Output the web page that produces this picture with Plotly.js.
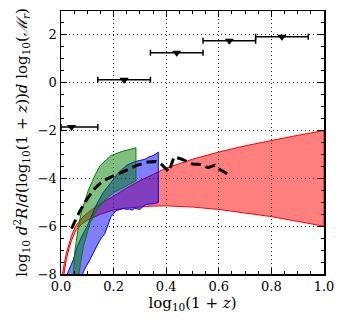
<!DOCTYPE html>
<html>
<head>
<meta charset="utf-8">
<script src="https://cdn.plot.ly/plotly-3.0.1.min.js"></script>
<style>
  html, body { margin: 0; padding: 0; background: #fff; }
  #grafica { width: 345px; height: 324px; }
</style>
</head>
<body>
<div id="grafica"></div>
<script>
// upper limits (triangles with bin widths)
const limX = [0.04, 0.24, 0.44, 0.64, 0.84];
const limY = [-1.85, 0.12, 1.25, 1.76, 1.92];
const limErrPlus = [0.1, 0.1, 0.1, 0.1, 0.1];
const limErrMinus = [0.04, 0.1, 0.1, 0.1, 0.1];

// red band
const redX = [0.005, 0.01, 0.02, 0.03, 0.04, 0.055, 0.08, 0.1, 0.15, 0.2, 0.25, 0.3, 0.35, 0.4, 0.5, 0.6, 0.7, 0.8, 0.9, 1.0];
const redUpper = [-8.1, -7.7, -7.15, -6.75, -6.4, -6.0, -5.65, -5.45, -5.05, -4.75, -4.4, -4.1, -3.82, -3.57, -3.2, -2.9, -2.64, -2.41, -2.2, -2.0];
const redLower = [-8.6, -8.1, -7.4, -6.95, -6.6, -6.2, -5.9, -5.75, -5.5, -5.32, -5.24, -5.19, -5.16, -5.15, -5.2, -5.3, -5.45, -5.6, -5.8, -6.0];

// blue band
const blueUpX = [0.012, 0.03, 0.047, 0.06, 0.08, 0.1, 0.13, 0.16, 0.19, 0.22, 0.25, 0.28, 0.3, 0.32, 0.335, 0.35, 0.365, 0.37];
const blueUpY = [-8.3, -7.8, -7.4, -6.9, -6.4, -6.0, -5.2, -4.6, -4.15, -3.75, -3.45, -3.3, -3.25, -3.2, -3.1, -3.05, -2.95, -2.9];
const blueLoX = [0.07, 0.09, 0.11, 0.13, 0.148, 0.167, 0.18, 0.19, 0.21, 0.237, 0.25, 0.26, 0.27, 0.28, 0.3, 0.31, 0.32, 0.34, 0.36, 0.37];
const blueLoY = [-8.3, -7.8, -7.4, -7.0, -6.58, -6.3, -5.9, -5.6, -5.35, -5.26, -5.3, -5.28, -5.33, -5.25, -5.3, -5.2, -5.1, -5.07, -5.05, -5.0];

// green band
const greenUpX = [0.045, 0.053, 0.066, 0.079, 0.104, 0.13, 0.15, 0.19, 0.23, 0.285];
const greenUpY = [-8.3, -7.0, -6.03, -5.33, -4.5, -3.85, -3.45, -3.05, -2.88, -2.72];
const greenLoX = [0.064, 0.075, 0.085, 0.11, 0.136, 0.167, 0.2, 0.24, 0.285];
const greenLoY = [-8.3, -7.5, -6.86, -5.88, -5.33, -4.91, -4.6, -4.35, -4.1];

// black dashed curve
const dashX = [0.04, 0.07, 0.1, 0.13, 0.16, 0.2, 0.25, 0.29, 0.33, 0.36, 0.38, 0.41, 0.43, 0.46, 0.5, 0.53, 0.56, 0.585, 0.6, 0.645];
const dashY = [-6.1, -5.4, -4.85, -4.4, -4.1, -3.9, -3.62, -3.45, -3.32, -3.3, -3.4, -3.72, -3.1, -3.2, -3.4, -3.42, -3.55, -3.45, -3.6, -3.9];

const fuente = 'DejaVu Serif';

function banda(upX, upY, loX, loY, fill, edge) {
    return {
        x: upX.concat(loX.slice().reverse()),
        y: upY.concat(loY.slice().reverse()),
        type: 'scatter',
        mode: 'lines',
        fill: 'toself',
        fillcolor: fill,
        line: { color: edge, width: 1 },
        hoverinfo: 'skip'
    };
}

const traces = [
    banda(redX, redUpper, redX, redLower, 'rgba(255,0,0,0.5)', 'rgb(255,0,0)'),
    banda(blueUpX, blueUpY, blueLoX, blueLoY, 'rgba(0,0,255,0.5)', 'rgb(0,0,255)'),
    banda(greenUpX, greenUpY, greenLoX, greenLoY, 'rgba(0,128,0,0.5)', 'rgb(0,128,0)'),
    {
        x: dashX, y: dashY, type: 'scatter', mode: 'lines',
        line: { color: 'black', width: 3, dash: '10px,5px' },
        hoverinfo: 'skip'
    },
    {
        x: limX, y: limY, type: 'scatter', mode: 'markers',
        marker: { symbol: 'triangle-down', size: 8, color: 'black' },
        error_x: {
            type: 'data', symmetric: false,
            array: limErrPlus, arrayminus: limErrMinus,
            color: 'black', thickness: 1.5, width: 3
        },
        hoverinfo: 'skip'
    }
];

const ejeComun = {
    showline: true, linecolor: 'black', linewidth: 1.5, mirror: 'allticks',
    ticks: 'inside', ticklen: 6, tickwidth: 1, tickcolor: 'black',
    showgrid: true, gridcolor: 'rgba(0,0,0,0.85)', gridwidth: 1, griddash: '1px,3px',
    zeroline: false,
    tickfont: { family: fuente, size: 13, color: 'black' }
};

const layout = {
    width: 345, height: 324,
    margin: { l: 61, r: 21, t: 11, b: 50 },
    paper_bgcolor: 'white', plot_bgcolor: 'white',
    showlegend: false,
    font: { family: fuente, color: 'black' },
    xaxis: Object.assign({}, ejeComun, {
        range: [0, 1], dtick: 0.2, tick0: 0, tickformat: '.1f',
        minor: { dtick: 0.05, ticks: 'inside', ticklen: 3, tickcolor: 'black', showgrid: false },
        title: { text: 'log<sub>10</sub>(1 + <i>z</i>)', font: { family: fuente, size: 15 }, standoff: 4 }
    }),
    yaxis: Object.assign({}, ejeComun, {
        range: [-8, 3], dtick: 2, tick0: 0,
        minor: { dtick: 0.5, ticks: 'inside', ticklen: 3, tickcolor: 'black', showgrid: false },
        title: {
            text: 'log<sub>10</sub> <i>d</i><sup>2</sup><i>R</i>/<i>d</i>(log<sub>10</sub>(1 + <i>z</i>))<i>d</i> log<sub>10</sub>(<i>ℳ</i><sub><i>r</i></sub>)',
            font: { family: fuente, size: 15 }, standoff: 6
        }
    })
};

Plotly.newPlot('grafica', traces, layout, { displayModeBar: false, staticPlot: true });
</script>
</body>
</html>
